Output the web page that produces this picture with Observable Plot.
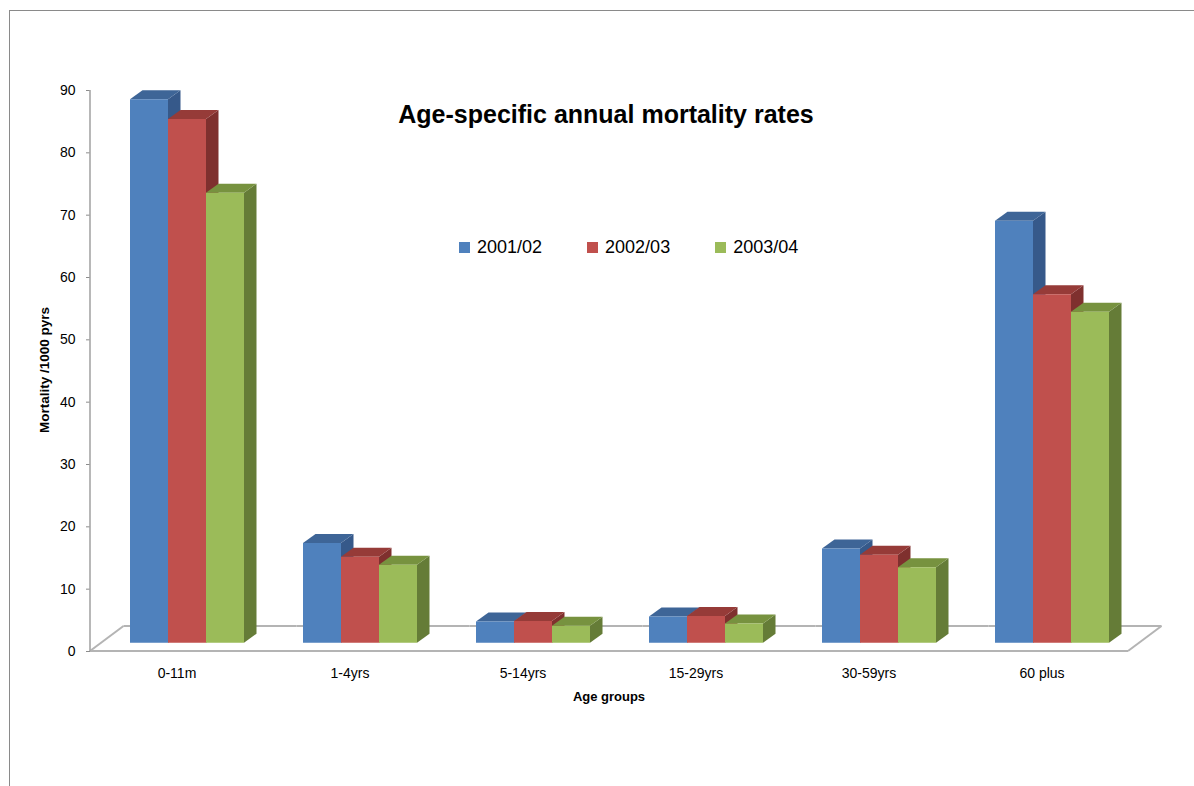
<!DOCTYPE html>
<html>
<head>
<meta charset="utf-8">
<script src="https://cdn.jsdelivr.net/npm/d3@7"></script>
<script src="https://cdn.jsdelivr.net/npm/@observablehq/plot@0.6"></script>
<style>
  html, body { margin: 0; padding: 0; background: #fff; overflow: hidden; }
  #wrap { position: relative; width: 1194px; height: 786px; font-family: "Liberation Sans", Arial, sans-serif; color: #000; }
  #frame { position: absolute; left: 9px; top: 10px; width: 1300px; height: 900px;
           border-top: 1px solid #8a8a8a; border-left: 1px solid #8a8a8a; box-sizing: border-box; }
  #chart { position: absolute; left: 0; top: 0; }
  #title { position: absolute; left: 306px; width: 600px; top: 102px; text-align: center;
           font-size: 25px; line-height: 25px; font-weight: bold; white-space: nowrap; }
  #legend { position: absolute; left: 459px; top: 238px; display: flex; align-items: center;
            font-size: 18px; line-height: 18px; white-space: nowrap; }
  #legend .item { display: flex; align-items: center; margin-right: 45px; }
  #legend .swatch { width: 11px; height: 11px; margin-right: 7px; }
  #xtitle { position: absolute; left: 509px; width: 200px; top: 690px; text-align: center;
            font-size: 13px; line-height: 13px; font-weight: bold; }
  #ytitle { position: absolute; left: 44px; top: 370px; transform: translate(-50%, -50%) rotate(-90deg);
            font-size: 13.5px; font-weight: bold; white-space: nowrap; }
  #chart svg g[aria-label="y-axis tick"] path { stroke: #8c8c8c; }
</style>
</head>
<body>
<div id="wrap">
  <div id="frame"></div>
  <div id="chart"></div>
  <div id="title">Age-specific annual mortality rates</div>
  <div id="legend"></div>
  <div id="xtitle">Age groups</div>
  <div id="ytitle">Mortality /1000 pyrs</div>
</div>
<script>
// Age groups along the floor and the three survey years
const groups = ["0-11m", "1-4yrs", "5-14yrs", "15-29yrs", "30-59yrs", "60 plus"];
const series = ["2001/02", "2002/03", "2003/04"];

// Mortality per 1000 person-years, one array per year (same order as groups)
const v2001 = [87.2, 16.0, 3.4, 4.2, 15.1, 67.7];
const v2002 = [84.0, 13.8, 3.5, 4.3, 14.1, 55.9];
const v2003 = [72.2, 12.5, 2.7, 3.1, 12.1, 53.1];

// Value axis ticks
const yTicks = [0, 10, 20, 30, 40, 50, 60, 70, 80, 90];

// Face colours for each year: front, top, side
const faceColors = [
  {front: "#4F81BD", top: "#3E6597", side: "#36598A"},
  {front: "#C0504D", top: "#963B38", side: "#7F302E"},
  {front: "#9BBB59", top: "#77923F", side: "#657C37"}
];

// Pseudo-3D offsets (pixels): bar recess from the floor front, bar depth, floor depth
const FRONT = {dx: 10, dy: -8.3};
const DEPTH = {dx: 12.5, dy: -9};
const FLOOR = {dx: 33.5, dy: -25};

const yearValues = [v2001, v2002, v2003];
const rows = [];
groups.forEach((g, gi) => {
  series.forEach((s, si) => rows.push({group: g, series: s, value: yearValues[si][gi]}));
});

const poly = (pts) => "M" + pts.map(p => p.join(",")).join("L") + "Z";

// Draws each bar as a front face plus a shaded top and right side
function drawBars(index, scales, values) {
  const g = d3.create("svg:g");
  const bw = scales.x.bandwidth();
  for (const i of index) {
    const c = faceColors[series.indexOf(rows[i].series)];
    const x0 = values.x[i] + FRONT.dx, x1 = x0 + bw;
    const yT = Math.min(values.y1[i], values.y2[i]) + FRONT.dy;
    const yB = Math.max(values.y1[i], values.y2[i]) + FRONT.dy;
    g.append("path").attr("fill", c.side)
      .attr("d", poly([[x1, yT], [x1 + DEPTH.dx, yT + DEPTH.dy], [x1 + DEPTH.dx, yB + DEPTH.dy], [x1, yB]]));
    g.append("path").attr("fill", c.top)
      .attr("d", poly([[x0, yT], [x1, yT], [x1 + DEPTH.dx, yT + DEPTH.dy], [x0 + DEPTH.dx, yT + DEPTH.dy]]));
    g.append("path").attr("fill", c.front)
      .attr("d", poly([[x0, yT], [x1, yT], [x1, yB], [x0, yB]]));
  }
  return g.node();
}

// Draws the floor slice under each age group, and the value-axis line at the left
function drawFloor(index, scales, values, dims) {
  const g = d3.create("svg:g").attr("fill", "none");
  const L = dims.marginLeft, R = dims.width - dims.marginRight;
  for (const i of index) {
    const y0 = values.y[i];
    const line = (x1, y1, x2, y2, stroke, w) => g.append("line")
      .attr("x1", x1).attr("y1", y1).attr("x2", x2).attr("y2", y2)
      .attr("stroke", stroke).attr("stroke-width", w);
    line(L, y0, R, y0, "#b4b4b4", 2);
    line(L + FLOOR.dx, y0 + FLOOR.dy, R + FLOOR.dx, y0 + FLOOR.dy, "#b4b4b4", 2);
    if (groups[i] === groups[0]) {
      line(L, y0, L + FLOOR.dx, y0 + FLOOR.dy, "#b4b4b4", 2);
      line(L, scales.y(yTicks[yTicks.length - 1]), L, y0, "#a6a6a6", 1.6);
    }
    if (groups[i] === groups[groups.length - 1]) {
      line(R, y0, R + FLOOR.dx, y0 + FLOOR.dy, "#b4b4b4", 2);
    }
  }
  return g.node();
}

const chart = Plot.plot({
  width: 1194,
  height: 786,
  marginLeft: 88,
  marginRight: 64,
  marginTop: 90,
  marginBottom: 135,
  style: {fontFamily: "Liberation Sans, Arial, sans-serif", fontSize: "14px", color: "#000", background: "transparent"},
  fx: {domain: groups, padding: 0, axis: "bottom", tickSize: 0, tickPadding: 17, label: null},
  x: {domain: series, paddingInner: 0, paddingOuter: 0.745, axis: null},
  y: {domain: [0, 90], ticks: yTicks, tickSize: 4, tickPadding: 11, label: null},
  marks: [
    Plot.ruleY(groups, {fx: d => d, y: () => 0, render: drawFloor}),
    Plot.barY(rows, {fx: "group", x: "series", y: "value", render: drawBars})
  ]
});
document.getElementById("chart").appendChild(chart);

// Legend built from the year names and their front colours
const legend = d3.select("#legend");
series.forEach((s, si) => {
  const item = legend.append("div").attr("class", "item");
  item.append("div").attr("class", "swatch").style("background", faceColors[si].front);
  item.append("span").text(s);
});
</script>
</body>
</html>
